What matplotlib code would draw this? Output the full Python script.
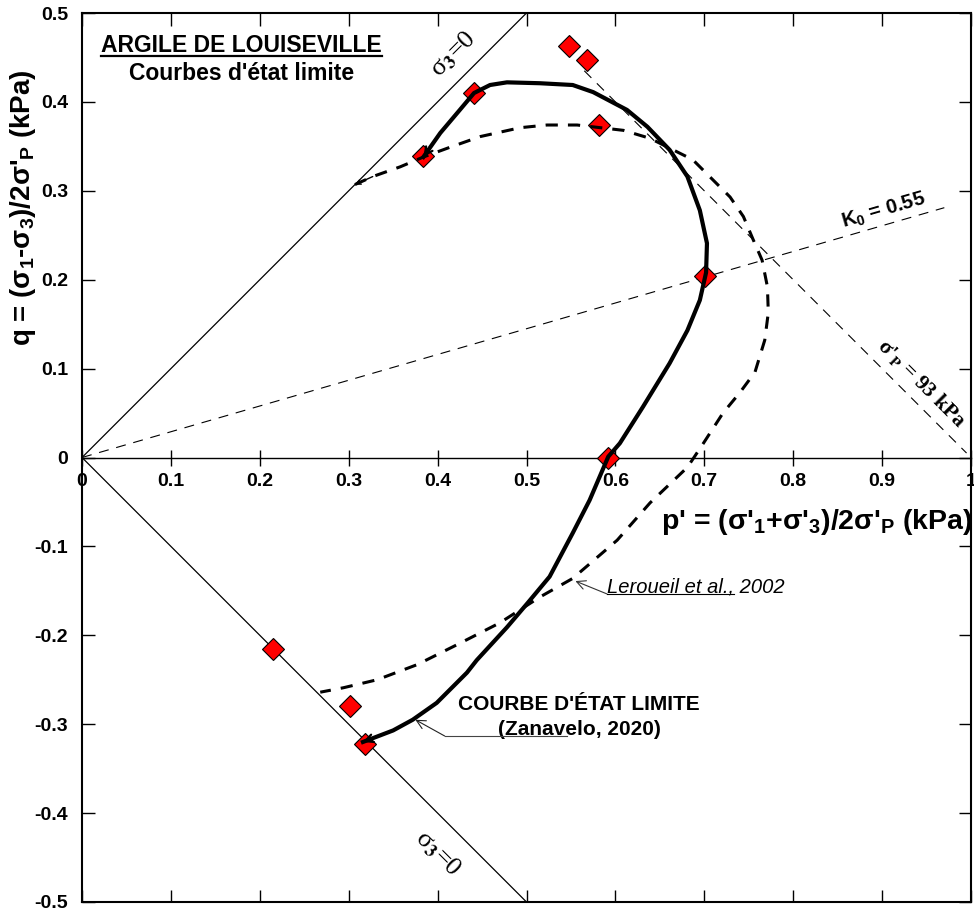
import numpy as np
import matplotlib
matplotlib.use("Agg")
import matplotlib.pyplot as plt

plt.rcParams['font.family'] = ['Liberation Sans', 'DejaVu Sans']
plt.rcParams['font.weight'] = 'bold'
plt.rcParams['mathtext.fontset'] = 'custom'
plt.rcParams['mathtext.rm'] = 'Liberation Sans'
plt.rcParams['mathtext.it'] = 'Liberation Sans:italic'
plt.rcParams['mathtext.bf'] = 'Liberation Sans:bold'

# essais (losanges rouges)
pts_p = [0.548, 0.568, 0.441, 0.384, 0.582, 0.701, 0.592, 0.215, 0.301, 0.318]
pts_q = [0.463, 0.447, 0.410, 0.339, 0.374, 0.204, 0.000, -0.215, -0.280, -0.322]

# courbe d'etat limite (Zanavelo, 2020)
zan_p = [0.384, 0.403, 0.425, 0.441, 0.459, 0.478, 0.515, 0.552, 0.575, 0.613,
         0.636, 0.661, 0.681, 0.695, 0.703, 0.702, 0.695, 0.681, 0.661, 0.631,
         0.605, 0.592, 0.571, 0.552, 0.526, 0.501, 0.478, 0.444, 0.433, 0.399,
         0.372, 0.350, 0.316]
zan_q = [0.338, 0.365, 0.391, 0.410, 0.419, 0.422, 0.421, 0.419, 0.411, 0.391,
         0.372, 0.346, 0.316, 0.278, 0.241, 0.208, 0.177, 0.143, 0.106, 0.057,
         0.016, 0.001, -0.048, -0.085, -0.134, -0.164, -0.191, -0.228, -0.242, -0.276,
         -0.295, -0.307, -0.320]

# courbe Leroueil et al., 2002
ler_p = [0.307, 0.327, 0.358, 0.384, 0.414, 0.448, 0.493, 0.523, 0.557, 0.609,
         0.639, 0.661, 0.687, 0.706, 0.729, 0.744, 0.755, 0.765, 0.771, 0.772,
         0.768, 0.757, 0.740, 0.721, 0.699, 0.681, 0.639, 0.602, 0.552, 0.515,
         0.470, 0.425, 0.377, 0.332, 0.294, 0.268]
ler_q = [0.307, 0.316, 0.327, 0.338, 0.349, 0.361, 0.371, 0.374, 0.374, 0.368,
         0.359, 0.348, 0.335, 0.316, 0.293, 0.271, 0.245, 0.222, 0.192, 0.163,
         0.132, 0.096, 0.073, 0.050, 0.016, -0.011, -0.051, -0.093, -0.136, -0.157,
         -0.186, -0.209, -0.233, -0.250, -0.259, -0.264]

# droites sigma3 = 0, K0 et sigma'p
s3_p = [0.5, 0.0, 0.5]
s3_q = [0.5, 0.0, -0.5]
k0_p = [0.0, 0.97]
k0_q = [0.0, 0.281]
sp_p = [0.565, 0.995]
sp_q = [0.435, 0.005]

xticks = np.round(np.arange(0, 1.01, 0.1), 1)
xlabels = ['0', '0.1', '0.2', '0.3', '0.4', '0.5', '0.6', '0.7', '0.8', '0.9', '1']
yticks = np.round(np.arange(-0.5, 0.51, 0.1), 1)
ylabels = ['-0.5', '-0.4', '-0.3', '-0.2', '-0.1', '0', '0.1', '0.2', '0.3', '0.4', '0.5']

fig = plt.figure(figsize=(9.74, 9.17), dpi=100)
ax = fig.add_axes([82/974, 15/917, 889/974, 889/917])
ax.set_xlim(0, 1)
ax.set_ylim(-0.5, 0.5)

ax.set_xticks(xticks)
ax.set_yticks(yticks)
ax.set_yticklabels(ylabels)
ax.tick_params(direction='in', length=9, width=1, top=True, right=True,
               labelbottom=False, labelsize=14, pad=10)
for s in ax.spines.values():
    s.set_linewidth(1.5)

# axe p' a q = 0
sec = ax.secondary_xaxis(0.5)
sec.set_alignment('bottom')
sec.set_xticks(xticks, labels=xlabels)
sec.tick_params(direction='inout', length=12, width=1, labelsize=14, pad=5)
sec.spines['bottom'].set_linewidth(1)

# droites
ax.plot(s3_p, s3_q, color='k', lw=0.9, zorder=2)
ax.plot(k0_p, k0_q, color='k', lw=0.8, ls='--', dashes=(9, 7), zorder=2)
ax.plot(sp_p, sp_q, color='k', lw=0.8, ls='--', dashes=(9, 7), zorder=2)

# points
ax.plot(pts_p, pts_q, 'D', ms=11.5, mfc='red', mec='black', mew=0.8, zorder=3)

# courbes
ax.plot(ler_p, ler_q, color='k', lw=2.2, ls='--', dashes=(4, 3.3), zorder=4)
ax.plot(zan_p, zan_q, color='k', lw=3, zorder=4, solid_joinstyle='round')
ap = dict(arrowstyle='->', lw=1.6, color='k', shrinkA=0, shrinkB=0, mutation_scale=14)
ax.annotate('', xy=(zan_p[0], zan_q[0]), xytext=(zan_p[1], zan_q[1]), arrowprops=ap, zorder=5)
ax.annotate('', xy=(zan_p[-1], zan_q[-1]), xytext=(zan_p[-2], zan_q[-2]), arrowprops=ap, zorder=5)
ax.annotate('', xy=(ler_p[0], ler_q[0]), xytext=(ler_p[1], ler_q[1]),
            arrowprops=dict(arrowstyle='->', lw=1, color='k', shrinkA=0, shrinkB=0,
                            mutation_scale=8), zorder=5)

# textes
t_title = ax.text(0.179, 0.464, 'ARGILE DE LOUISEVILLE', ha='center', va='center', fontsize=16.5)
ax.text(0.180, 0.4325, "Courbes d'état limite", ha='center', va='center', fontsize=16.5)

serif = ['Liberation Serif', 'DejaVu Serif']
ax.text(0.418, 0.454, r'σ$_3$=0', rotation=45, ha='center', va='center', fontsize=19,
        family=serif, fontweight='normal', math_fontfamily='stix')
ax.text(0.400, -0.445, r'σ$_3$=0', rotation=-45, ha='center', va='center', fontsize=19,
        family=serif, fontweight='normal', math_fontfamily='stix')
ax.text(0.944, 0.084, r"σ'$_\mathrm{P}$ = 93 kPa", rotation=-45, ha='center', va='center',
        fontsize=15.5, family=serif, fontweight='bold', math_fontfamily='stix')
ax.text(0.902, 0.278, r'K$_\mathbf{0}$ = 0.55', rotation=16.2, ha='center', va='center', fontsize=14.5)

t_ler = ax.text(0.5906, -0.1524, 'Leroueil et al.,', ha='left', va='baseline', fontsize=14.5,
                style='italic', fontweight='normal')
ax.annotate(' 2002', xy=(1, 0), xycoords=t_ler, ha='left', va='bottom', fontsize=14.5,
            style='italic', fontweight='normal')
ax.annotate('', xy=(0.555, -0.139), xytext=(0.5906, -0.1535),
            arrowprops=dict(arrowstyle='->', lw=0.8, color='#333333', shrinkA=0, shrinkB=0,
                            mutation_scale=16))

ax.text(0.559, -0.278, "COURBE D'ÉTAT LIMITE", ha='center', va='center', fontsize=15)
ax.text(0.559, -0.3065, '(Zanavelo, 2020)', ha='center', va='center', fontsize=15)
ax.plot([0.546, 0.408], [-0.3133, -0.3133], color='#444444', lw=0.8, zorder=6)
ax.annotate('', xy=(0.375, -0.295), xytext=(0.408, -0.3133),
            arrowprops=dict(arrowstyle='->', lw=0.8, color='#222222', shrinkA=0, shrinkB=0,
                            mutation_scale=16))

ax.text(1.002, -0.073, r"p' = (σ'$_\mathbf{1}$+σ'$_\mathbf{3}$)/2σ'$_\mathbf{P}$ (kPa)",
        ha='right', va='center', fontsize=20.5)
fig.text(0.024, 0.774, r"q = ($\mathrm{\sigma_1}$-$\mathrm{\sigma_3}$)/2$\mathrm{\sigma}$'$_\mathrm{P}$ (kPa)",
         rotation=90, ha='center', va='center', fontsize=20)


def underline(t, lw=1.5, dy=0.0):
    fig.canvas.draw()
    bb = t.get_window_extent()
    inv = ax.transData.inverted()
    (x0, y0), (x1, y1) = inv.transform([(bb.x0, bb.y0 + dy), (bb.x1, bb.y0 + dy)])
    ax.plot([x0, x1], [y0, y0], color='k', lw=lw, zorder=6)


underline(t_title, lw=1.6, dy=1)
underline(t_ler, lw=0.8, dy=3)

fig.savefig('out.png', dpi=100)
